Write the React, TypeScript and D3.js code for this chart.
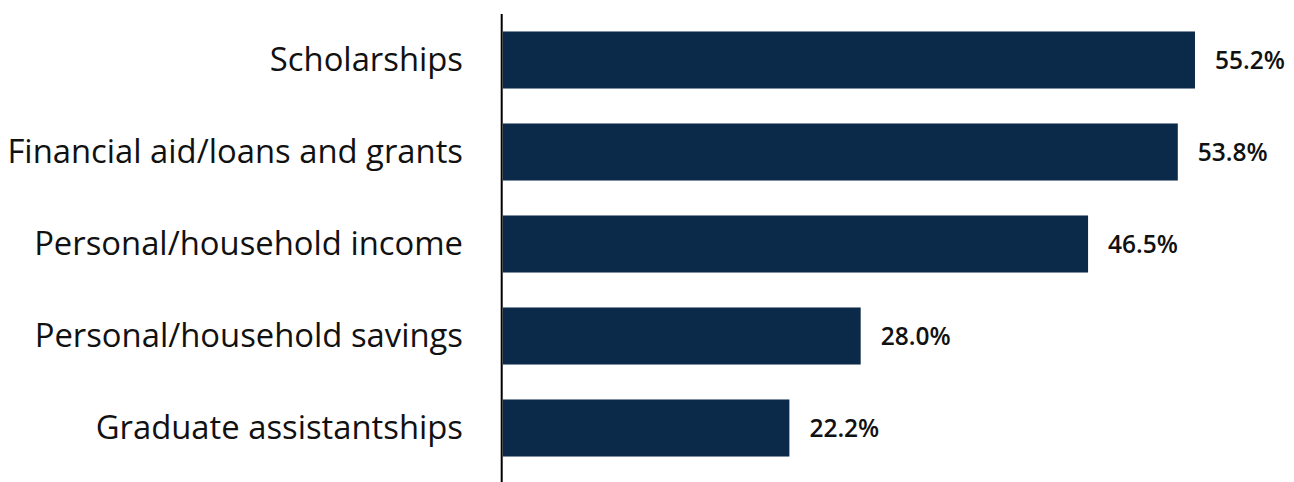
import React from "react";
import * as d3 from "d3";

const categories = [
  "Scholarships",
  "Financial aid/loans and grants",
  "Personal/household income",
  "Personal/household savings",
  "Graduate assistantships",
];
const values = [55.2, 53.8, 46.5, 28.0, 22.2];
const valueLabels = ["55.2%", "53.8%", "46.5%", "28.0%", "22.2%"];

const W = 1294;
const H = 482;
const xDomain: [number, number] = [-1.1, 60];

export default function App() {
  const x = d3.scaleLinear().domain(xDomain).range([503, 1254]);
  const y = d3
    .scaleBand<string>()
    .domain(categories)
    .range([14, 474])
    .paddingInner(0.38)
    .paddingOuter(0.19);
  const x0 = x(xDomain[0]);
  return (
    <svg
      width={W}
      height={H}
      style={{ position: "absolute", left: 0, top: 0, background: "#fff" }}
    >
      {categories.map((c, i) => {
        const yy = y(c)!;
        const cy = yy + y.bandwidth() / 2;
        return (
          <g key={c}>
            <rect
              x={x0}
              y={yy}
              width={x(values[i]) - x0}
              height={y.bandwidth()}
              fill="#0b2949"
            />
            <text
              x={463}
              y={cy}
              dy="0.35em"
              textAnchor="end"
              fontFamily="'Open Sans', sans-serif"
              fontSize={32.8}
              fill="#111"
            >
              {c}
            </text>
            <text
              x={x(values[i]) + 20}
              y={cy}
              dy="0.35em"
              textAnchor="start"
              fontFamily="'Open Sans', sans-serif"
              fontWeight={600}
              fontSize={24.5}
              fill="#111"
            >
              {valueLabels[i]}
            </text>
          </g>
        );
      })}
      <line x1={501.7} x2={501.7} y1={14} y2={H} stroke="#000" strokeWidth={2} />
    </svg>
  );
}
